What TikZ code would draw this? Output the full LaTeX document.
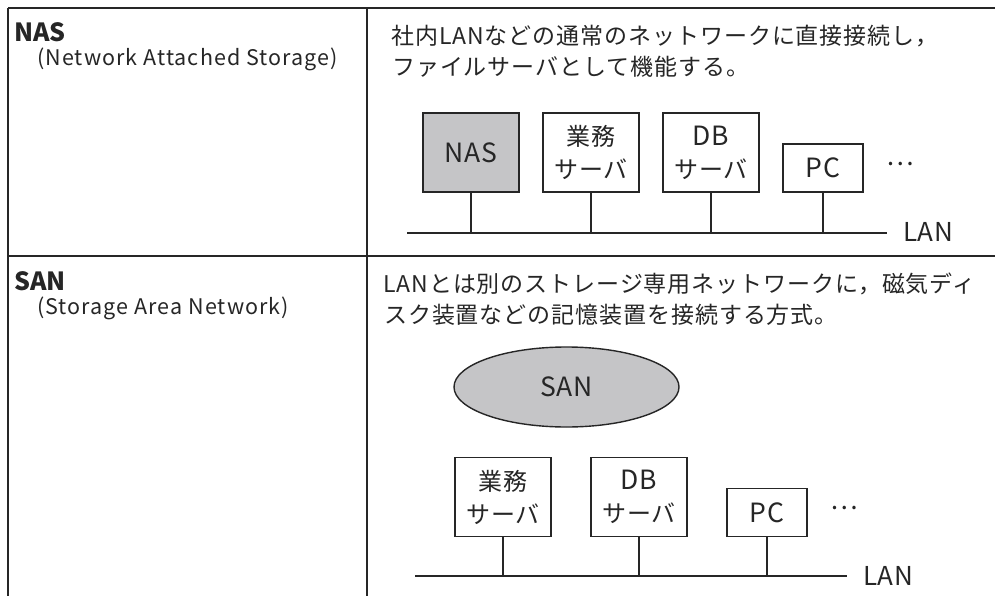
\documentclass[tikz,border=0pt]{standalone}
\usepackage{fontspec}
\setmainfont{Noto Sans CJK JP}
\usetikzlibrary{shapes.geometric,backgrounds}
\definecolor{ink}{HTML}{262626}
\definecolor{boxgray}{HTML}{C5C5C7}
\newcommand\boxlat[1]{{\fontsize{26.5}{33}\selectfont\addfontfeatures{LetterSpace=2}#1}}
\begin{document}
\begin{tikzpicture}[x=1pt,y=-1pt,
  rule/.style={draw=ink,line width=1.9pt},
  lan/.style={draw=ink,line width=1.8pt},
  stem/.style={draw=ink,line width=1.6pt},
  devbox/.style={draw=ink,line width=1.6pt,fill=white,minimum width=96pt,minimum height=79pt,inner sep=0pt,align=center,text=ink,font=\fontsize{24}{33}\selectfont\addfontfeatures{LetterSpace=3}},
  pcbox/.style={devbox,minimum width=80pt,minimum height=48pt},
  grayfill/.style={fill=boxgray},
  title/.style={anchor=base west,inner sep=0pt,text=ink,font=\fontsize{25}{28}\selectfont\bfseries},
  sub/.style={anchor=base west,inner sep=0pt,text=ink,font=\fontsize{21.5}{24}\selectfont\addfontfeatures{LetterSpace=5}},
  body/.style={anchor=base west,inner sep=0pt,text=ink,font=\fontsize{23}{30}\selectfont\addfontfeatures{LetterSpace=4}},
  plain/.style={inner sep=0pt,text=ink,font=\fontsize{26}{28}\selectfont\addfontfeatures{LetterSpace=2}}]
\useasboundingbox (0,0) rectangle (995,596);
\fill[white] (0,0) rectangle (995,596);
% table rules
\coordinate (tl) at (8,8);
\coordinate (tr) at (995,8);
\coordinate (bl) at (8,596);
\coordinate (mt) at (367,8);
\coordinate (mb) at (367,596);
\coordinate (rl) at (8,256);
\coordinate (rr) at (995,256);
\draw[rule] (tl) -- (tr);
\draw[rule] (tl) -- (bl);
\draw[rule] (mt) -- (mb);
\draw[rule] (rl) -- (rr);
% NAS row texts
\node[title] (t1) at (14,42) {NAS};
\node[sub] (s1) at (37,66) {(Network Attached Storage)};
\node[body] (b1a) at (391,45) {社内LANなどの通常のネットワークに直接接続し，};
\node[body] (b1b) at (392,76) {ファイルサーバとして機能する。};
% NAS diagram
\node[devbox,grayfill] (nas) at (471,152.5) {\boxlat{NAS}};
\node[devbox] (gy1) at (591,152.5) {業務\\サーバ};
\node[devbox] (db1) at (711,152.5) {\boxlat{DB}\\サーバ};
\node[pcbox] (pc1) at (823,168) {\boxlat{PC}};
\node[plain] (dots1) at (900,164) {…};
\coordinate (lan1l) at (407,233);
\coordinate (lan1r) at (887,233);
\draw[lan] (lan1l) -- (lan1r);
\node[plain,anchor=west] (lan1) at (903,232) {LAN};
\foreach \n in {nas,gy1,db1,pc1} \draw[stem] (\n.south) -- (\n.south |- lan1l);
% SAN row texts
\node[title] (t2) at (14,290) {SAN};
\node[sub] (s2) at (37,314) {(Storage Area Network)};
\node[body] (b2a) at (383,292) {LANとは別のストレージ専用ネットワークに，磁気ディ};
\node[body] (b2b) at (384,323) {スク装置などの記憶装置を接続する方式。};
% SAN diagram
\node[ellipse,draw=ink,line width=1.4pt,fill=boxgray,minimum width=225pt,minimum height=80pt,inner sep=0pt,text=ink,font=\fontsize{26.5}{28}\selectfont\addfontfeatures{LetterSpace=2}] (san) at (566.5,387) {SAN};
\node[devbox] (gy2) at (503,497) {業務\\サーバ};
\node[devbox] (db2) at (639,497) {\boxlat{DB}\\サーバ};
\node[pcbox] (pc2) at (767,512.5) {\boxlat{PC}};
\node[plain] (dots2) at (844,508) {…};
\coordinate (lan2l) at (415,576);
\coordinate (lan2r) at (847,576);
\draw[lan] (lan2l) -- (lan2r);
\node[plain,anchor=west] (lan2) at (863,576) {LAN};
\foreach \n in {gy2,db2,pc2} \draw[stem] (\n.south) -- (\n.south |- lan2l);
\begin{pgfonlayer}{background}
\foreach \n in {gy2,db2} \draw[stem] (\n.north) -- (\n.north |- san.center);
\end{pgfonlayer}
\end{tikzpicture}
\end{document}
